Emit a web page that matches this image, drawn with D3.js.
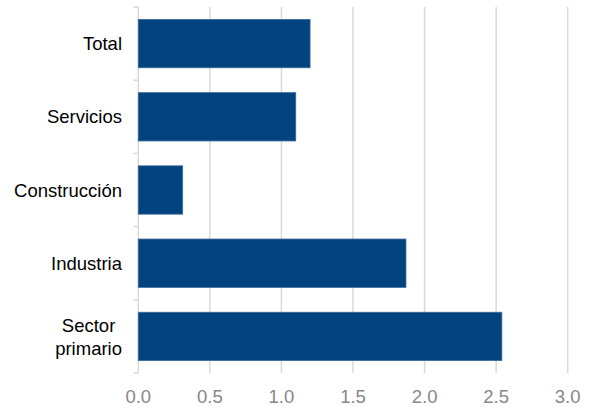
<!DOCTYPE html>
<html>
<head>
<meta charset="utf-8">
<script src="https://cdn.jsdelivr.net/npm/d3@7"></script>
<style>
  html, body { margin: 0; padding: 0; background: #fff; }
  svg { display: block; font-family: "Liberation Sans", Arial, sans-serif; }
</style>
</head>
<body>
<svg id="chart" width="596" height="407"></svg>
<script>
// Sectors, top to bottom
const categories = ["Total", "Servicios", "Construcción", "Industria", "Sector primario"];
const values = [1.2, 1.1, 0.31, 1.87, 2.54];
const tickValues = [0, 0.5, 1, 1.5, 2, 2.5, 3];
const tickLabels = ["0.0", "0.5", "1.0", "1.5", "2.0", "2.5", "3.0"];
const multiLine = { "Sector primario": ["Sector", "primario"] };

const svg = d3.select("#chart");
const plotLeft = 138.3, plotRight = 567.7, plotTop = 7, plotBottom = 373;

const x = d3.scaleLinear().domain([0, 3]).range([plotLeft, plotRight]);
const y = d3.scaleBand().domain(categories).range([plotTop, plotBottom]).paddingInner(0.34).paddingOuter(0.17);

// vertical gridlines
svg.append("g").selectAll("line")
  .data(tickValues.slice(1))
  .join("line")
  .attr("x1", d => x(d)).attr("x2", d => x(d))
  .attr("y1", plotTop).attr("y2", plotBottom)
  .attr("stroke", "#d9d9d9").attr("stroke-width", 1.5);

// category axis line with ticks at band boundaries
const step = (plotBottom - plotTop) / categories.length;
const axisG = svg.append("g").attr("stroke", "#d9d9d9").attr("stroke-width", 1.5);
axisG.append("line").attr("x1", plotLeft).attr("x2", plotLeft).attr("y1", plotTop).attr("y2", plotBottom);
axisG.selectAll("line.tk")
  .data(d3.range(categories.length + 1))
  .join("line").attr("class", "tk")
  .attr("x1", plotLeft - 5).attr("x2", plotLeft)
  .attr("y1", i => plotTop + i * step).attr("y2", i => plotTop + i * step);

// bars
svg.append("g").selectAll("rect")
  .data(categories)
  .join("rect")
  .attr("x", x(0))
  .attr("y", d => y(d))
  .attr("width", (d, i) => x(values[i]) - x(0))
  .attr("height", y.bandwidth())
  .attr("fill", "#00437f")
  .attr("stroke", "#3a6899").attr("stroke-width", 0.8);

// category labels
const labelRight = 122;
const lab = svg.append("g").attr("font-size", 18.5).attr("fill", "#000");
categories.forEach(c => {
  const cy = y(c) + y.bandwidth() / 2;
  const lines = multiLine[c] || [c];
  const lh = 23;
  const t = lab.append("text");
  lines.forEach(l => t.append("tspan").text(l));
  const spans = t.selectAll("tspan").nodes();
  const maxW = d3.max(spans, s => s.getComputedTextLength());
  const cx = labelRight - maxW / 2;
  t.attr("text-anchor", "middle");
  spans.forEach((s, i) => {
    d3.select(s).attr("x", cx)
      .attr("y", cy + (i - (lines.length - 1) / 2) * lh)
      .attr("dy", "0.36em");
  });
});

// value axis labels
svg.append("g").attr("font-size", 18.5).attr("fill", "#878787").attr("text-anchor", "middle")
  .selectAll("text")
  .data(tickValues)
  .join("text")
  .attr("x", d => x(d))
  .attr("y", 403)
  .text((d, i) => tickLabels[i]);
</script>
</body>
</html>
